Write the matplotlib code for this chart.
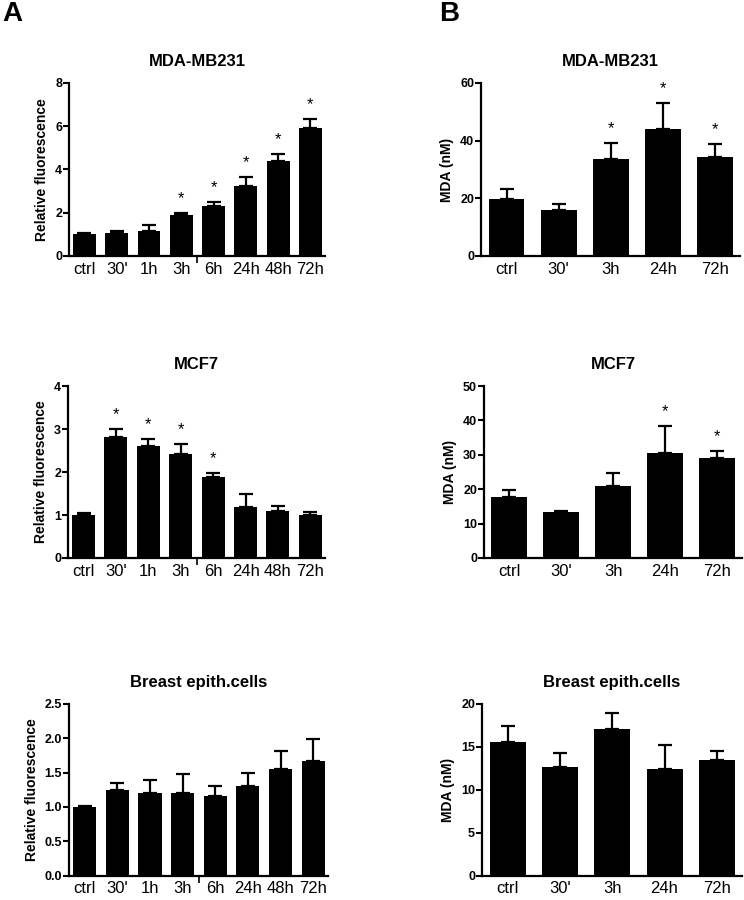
import matplotlib
matplotlib.use("Agg")
import matplotlib.pyplot as plt
import numpy as np

plt.rcParams['font.family'] = ['Liberation Sans', 'DejaVu Sans']

# data
cats_a = ["ctrl", "30'", "1h", "3h", "6h", "24h", "48h", "72h"]
cats_b = ["ctrl", "30'", "3h", "24h", "72h"]

mda_fluo = [1.0, 1.05, 1.15, 1.9, 2.33, 3.25, 4.37, 5.92]
mda_fluo_err = [0.06, 0.1, 0.3, 0.1, 0.15, 0.4, 0.33, 0.43]
mda_fluo_sig = [False, False, False, True, True, True, True, True]

mcf_fluo = [1.01, 2.81, 2.61, 2.41, 1.89, 1.19, 1.09, 1.01]
mcf_fluo_err = [0.04, 0.19, 0.16, 0.24, 0.08, 0.3, 0.13, 0.07]
mcf_fluo_sig = [False, True, True, True, True, False, False, False]

epi_fluo = [1.0, 1.25, 1.2, 1.2, 1.165, 1.3, 1.55, 1.66]
epi_fluo_err = [0.02, 0.1, 0.19, 0.28, 0.145, 0.19, 0.26, 0.32]
epi_fluo_sig = [False] * 8

mda_mda = [19.9, 15.8, 33.8, 44.1, 34.3]
mda_mda_err = [3.3, 2.2, 5.4, 8.9, 4.4]
mda_mda_sig = [False, False, True, True, True]

mcf_mda = [17.7, 13.5, 20.9, 30.4, 29.2]
mcf_mda_err = [2.2, 0.2, 3.7, 7.9, 2.0]
mcf_mda_sig = [False, False, False, True, True]

epi_mda = [15.5, 12.65, 17.05, 12.4, 13.4]
epi_mda_err = [1.9, 1.65, 1.85, 2.8, 1.1]
epi_mda_sig = [False] * 5


def draw_panel(ax, cats, vals, errs, sig, title, ylabel, ymax, yticks, yfmt, xlim, width, gap_tick):
    x = np.arange(len(cats))
    ax.bar(x, vals, width=width, color='black', zorder=2)
    # only the upper half of the error bar is shown
    ax.errorbar(x, vals, yerr=[np.zeros(len(vals)), errs], fmt='none', ecolor='black',
                elinewidth=1.6, capsize=5, capthick=1.6, zorder=1)
    for xi, v, e, s in zip(x, vals, errs, sig):
        if s:
            ax.annotate('*', (xi, v + e), xytext=(0, 5), textcoords='offset points',
                        ha='center', va='bottom', fontsize=12)
    ax.set_xlim(*xlim)
    ax.set_ylim(0, ymax)
    ax.set_yticks(yticks)
    ax.set_yticklabels([yfmt.format(t) for t in yticks], fontweight='bold', fontsize=9)
    ax.set_xticks(x)
    ax.set_xticklabels(cats, fontsize=12)
    ax.tick_params(axis='x', length=0, pad=4)
    ax.tick_params(axis='y', length=4, width=1.5, pad=1)
    if gap_tick:
        ax.set_xticks([3.5], minor=True)
        ax.tick_params(axis='x', which='minor', length=5, width=1.2)
    for sp in ['top', 'right']:
        ax.spines[sp].set_visible(False)
    for sp in ['left', 'bottom']:
        ax.spines[sp].set_linewidth(1.6)
    ax.set_title(title, fontweight='bold', fontsize=12, pad=12)
    ax.set_ylabel(ylabel, fontweight='bold', fontsize=10, labelpad=4)


fig = plt.figure(figsize=(7.44, 9.0), dpi=100)

ax1 = fig.add_axes([0.0927, 0.7156, 0.344, 0.1922])
draw_panel(ax1, cats_a, mda_fluo, mda_fluo_err, mda_fluo_sig, 'MDA-MB231', 'Relative fluorescence',
           8, [0, 2, 4, 6, 8], '{:g}', (-0.48, 7.45), 0.71, True)

ax2 = fig.add_axes([0.6465, 0.7156, 0.348, 0.1922])
draw_panel(ax2, cats_b, mda_mda, mda_mda_err, mda_mda_sig, 'MDA-MB231', 'MDA (nM)',
           60, [0, 20, 40, 60], '{:g}', (-0.49, 4.48), 0.69, False)

ax3 = fig.add_axes([0.0914, 0.38, 0.3454, 0.1911])
draw_panel(ax3, cats_a, mcf_fluo, mcf_fluo_err, mcf_fluo_sig, 'MCF7', 'Relative fluorescence',
           4, [0, 1, 2, 3, 4], '{:g}', (-0.48, 7.45), 0.71, True)

ax4 = fig.add_axes([0.6505, 0.38, 0.3468, 0.1911])
draw_panel(ax4, cats_b, mcf_mda, mcf_mda_err, mcf_mda_sig, 'MCF7', 'MDA (nM)',
           50, [0, 10, 20, 30, 40, 50], '{:g}', (-0.49, 4.48), 0.69, False)

ax5 = fig.add_axes([0.0927, 0.027, 0.348, 0.1911])
draw_panel(ax5, cats_a, epi_fluo, epi_fluo_err, epi_fluo_sig, 'Breast epith.cells', 'Relative fluorescence',
           2.5, [0, 0.5, 1.0, 1.5, 2.0, 2.5], '{:.1f}', (-0.48, 7.45), 0.71, True)

ax6 = fig.add_axes([0.6478, 0.027, 0.3495, 0.1911])
draw_panel(ax6, cats_b, epi_mda, epi_mda_err, epi_mda_sig, 'Breast epith.cells', 'MDA (nM)',
           20, [0, 5, 10, 15, 20], '{:g}', (-0.49, 4.48), 0.69, False)

fig.text(0.003, 0.999, 'A', fontsize=20, fontweight='bold', ha='left', va='top')
fig.text(0.59, 0.999, 'B', fontsize=20, fontweight='bold', ha='left', va='top')

fig.savefig('out.png', dpi=100)
